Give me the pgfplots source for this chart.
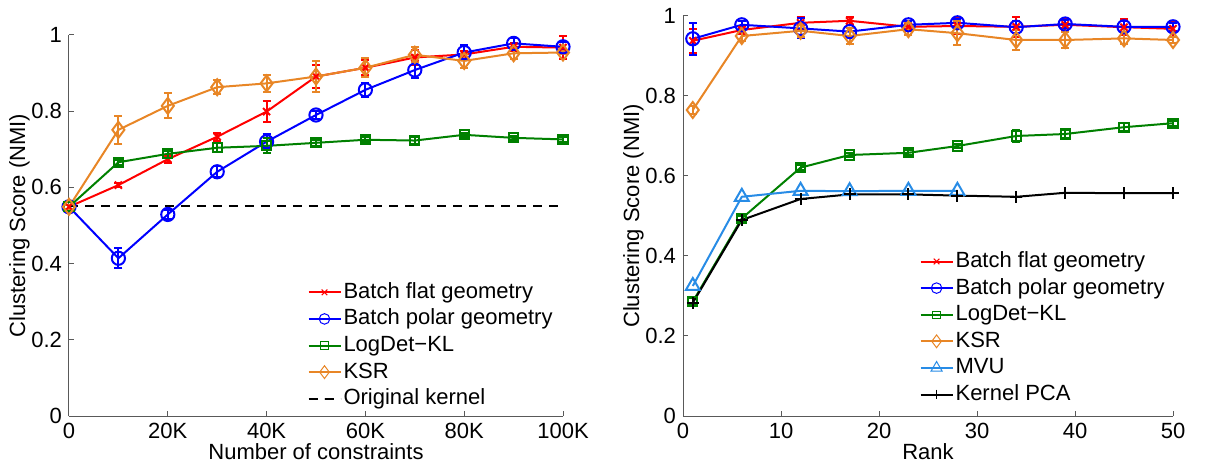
\documentclass[border=0pt]{standalone}
\usepackage{pgfplots}
\pgfplotsset{compat=1.18}
\usepackage{pgfplotstable}
\usepackage{fontspec}
\setmainfont{Liberation Sans}
\definecolor{mred}{RGB}{255,0,0}
\definecolor{mblue}{RGB}{0,0,255}
\definecolor{mgreen}{RGB}{0,128,0}
\definecolor{morange}{RGB}{232,134,38}
\definecolor{mvu}{RGB}{40,140,230}

\pgfplotstableread{
x y e
0 0.549 0.005
10 0.606 0.006
20 0.674 0.010
30 0.733 0.010
40 0.799 0.027
50 0.891 0.030
60 0.914 0.020
70 0.941 0.020
80 0.949 0.010
90 0.969 0.010
100 0.967 0.030
}\Lflat
\pgfplotstableread{
x y e
0 0.549 0.005
10 0.414 0.026
20 0.529 0.012
30 0.641 0.015
40 0.720 0.020
50 0.790 0.010
60 0.856 0.018
70 0.908 0.020
80 0.954 0.020
90 0.978 0.015
100 0.969 0.012
}\Lpolar
\pgfplotstableread{
x y e
0 0.549 0.005
10 0.666 0.006
20 0.688 0.008
30 0.704 0.012
40 0.709 0.020
50 0.717 0.008
60 0.725 0.006
70 0.723 0.008
80 0.738 0.006
90 0.730 0.006
100 0.726 0.006
}\Llogdet
\pgfplotstableread{
x y e
0 0.549 0.005
10 0.751 0.036
20 0.814 0.033
30 0.863 0.018
40 0.873 0.022
50 0.891 0.040
60 0.914 0.025
70 0.948 0.020
80 0.932 0.018
90 0.952 0.015
100 0.954 0.005
}\Lksr

\pgfplotstableread{
x y e
1 0.938 0.030
6 0.965 0.010
12 0.983 0.015
17 0.988 0.010
23 0.973 0.010
28 0.975 0.020
34 0.973 0.025
39 0.978 0.015
45 0.972 0.020
50 0.968 0.020
}\Rflat
\pgfplotstableread{
x y e
1 0.943 0.040
6 0.978 0.010
12 0.969 0.025
17 0.961 0.010
23 0.978 0.010
28 0.983 0.010
34 0.972 0.015
39 0.980 0.010
45 0.973 0.015
50 0.973 0.010
}\Rpolar
\pgfplotstableread{
x y e
1 0.286 0.008
6 0.494 0.006
12 0.621 0.006
17 0.6525 0.006
23 0.658 0.006
28 0.675 0.006
34 0.700 0.015
39 0.705 0.010
45 0.722 0.010
50 0.732 0.006
}\Rlogdet
\pgfplotstableread{
x y e
1 0.765 0.010
6 0.950 0.012
12 0.963 0.015
17 0.950 0.020
23 0.967 0.015
28 0.957 0.030
34 0.940 0.025
39 0.940 0.020
45 0.944 0.015
50 0.940 0.008
}\Rksr
\pgfplotstableread{
x y
1 0.325
6 0.548
12 0.563
17 0.562
23 0.563
28 0.563
}\Rmvu
\pgfplotstableread{
x y
1 0.283
6 0.490
12 0.5425
17 0.554
23 0.554
28 0.551
34 0.548
39 0.558
45 0.557
50 0.557
}\Rkpca

\pgfplotsset{
  mstyle/.style={
    scale only axis,
    axis x line*=bottom, axis y line*=left,
    axis line style={black!65, line width=0.5bp},
    tick style={black!65, line width=0.5bp},
    tick align=inside, major tick length=2.5bp,
    ymin=0, ymax=1, ytick={0,0.2,...,1},
    yticklabel style={/pgf/number format/fixed},
    tick label style={font=\fontsize{11bp}{13bp}\selectfont},
    label style={font=\fontsize{11bp}{13bp}\selectfont},
    /pgf/number format/assume math mode=true,
    clip=false,
    legend cell align=left,
    legend style={draw=none, fill=none, inner sep=0pt, row sep=0.2bp,
      font=\fontsize{11bp}{13bp}\selectfont,
      nodes={inner sep=1bp, text height=8.5bp, text depth=2.6bp}},
    legend image code/.code={
      \draw[mark repeat=2, mark phase=2, /tikz/every mark/.append style={line width=0.5bp, scale=0.8}]
        plot coordinates {(0bp,0bp) (8bp,0bp) (16bp,0bp)};},
    every axis plot/.append style={line width=1bp},
    error bars/error bar style={line width=1bp},
    error bars/error mark options={rotate=90, mark size=2bp, line width=1bp},
  },
  eb/.style={error bars/.cd, y dir=both, y explicit},
}

\begin{document}
\begin{tikzpicture}
\path[use as bounding box] (0,0) rectangle (605.5bp,232bp);
\begin{axis}[mstyle,
  at={(34.5bp,24bp)}, anchor=origin,
  width=247bp, height=190.5bp,
  xmin=0, xmax=100, xtick={0,20,...,100},
  xticklabels={0,20K,40K,60K,80K,100K},
  xlabel={Number of constraints},
  ylabel={Clustering Score (NMI)},
  xlabel style={yshift=4.5bp},
  ylabel style={yshift=-6bp},
  legend style={at={(0.482,0.36)}, anchor=north west},
]
\addplot[mred, mark=x, mark size=2.5bp, mark options={solid}, eb] table[x=x,y=y,y error=e] {\Lflat};
\addlegendentry{Batch flat geometry}
\addplot[mblue, mark=o, mark size=3.3bp, mark options={solid}, eb] table[x=x,y=y,y error=e] {\Lpolar};
\addlegendentry{Batch polar geometry}
\addplot[mgreen, mark=square, mark size=2.3bp, mark options={solid}, eb] table[x=x,y=y,y error=e] {\Llogdet};
\addlegendentry{LogDet−KL}
\addplot[morange, mark=diamond, mark size=4bp, mark options={solid}, eb] table[x=x,y=y,y error=e] {\Lksr};
\addlegendentry{KSR}
\addplot[black, line width=1bp, dash pattern=on 4.5bp off 3.5bp] coordinates {(0,0.552) (100,0.552)};
\addlegendentry{Original kernel}
\end{axis}

\begin{axis}[mstyle,
  at={(341.5bp,24bp)}, anchor=origin,
  width=245bp, height=200bp,
  xmin=0, xmax=50, xtick={0,10,...,50},
  xlabel={Rank},
  ylabel={Clustering Score (NMI)},
  xlabel style={yshift=4.5bp},
  ylabel style={yshift=-6bp},
  legend style={at={(0.482,0.42)}, anchor=north west},
]
\addplot[mred, mark=x, mark size=2.5bp, mark options={solid}, eb] table[x=x,y=y,y error=e] {\Rflat};
\addlegendentry{Batch flat geometry}
\addplot[mblue, mark=o, mark size=3.3bp, mark options={solid}, eb] table[x=x,y=y,y error=e] {\Rpolar};
\addlegendentry{Batch polar geometry}
\addplot[mgreen, mark=square, mark size=2.3bp, mark options={solid}, eb] table[x=x,y=y,y error=e] {\Rlogdet};
\addlegendentry{LogDet−KL}
\addplot[morange, mark=diamond, mark size=4bp, mark options={solid}, eb] table[x=x,y=y,y error=e] {\Rksr};
\addlegendentry{KSR}
\addplot[mvu, mark=triangle, mark size=4bp, mark options={solid}] table[x=x,y=y] {\Rmvu};
\addlegendentry{MVU}
\addplot[black, mark=+, mark size=3bp, mark options={solid}] table[x=x,y=y] {\Rkpca};
\addlegendentry{Kernel PCA}
\end{axis}
\end{tikzpicture}
\end{document}
